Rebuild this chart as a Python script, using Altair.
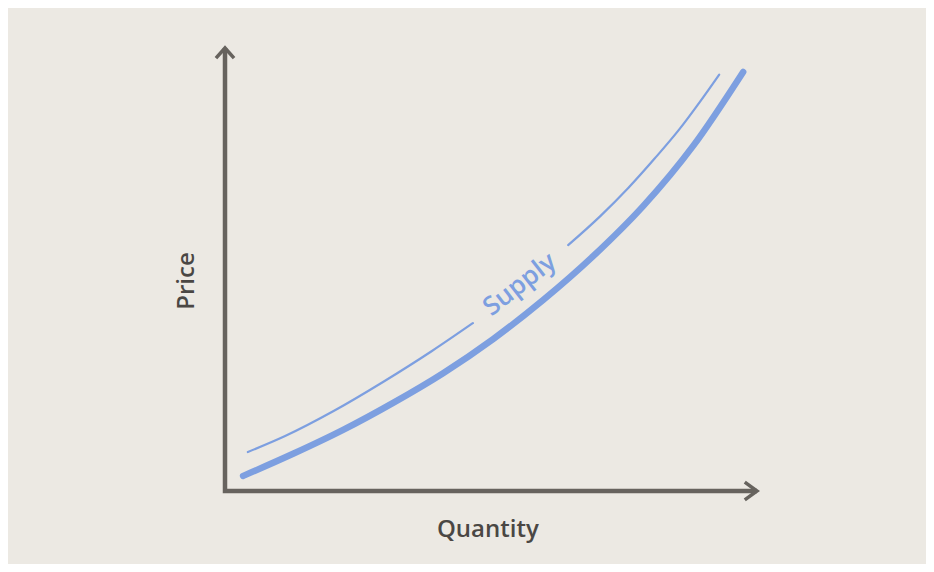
import altair as alt
import pandas as pd

# Supply curve (thick) (Quantity, Price on 0-100 scales)
supply_q = [3.4, 12.8, 22.2, 31.6, 41.0, 50.4, 59.8, 69.2, 78.6, 88.0, 97.4]
supply_p = [3.4, 8.4, 13.8, 19.9, 26.6, 34.3, 43.1, 53.0, 64.3, 77.9, 94.6]

# Thin guide line above the curve, split around the label
guide1_q = [4.3, 11.3, 20.5, 29.7, 38.9, 46.6]
guide1_p = [8.8, 12.4, 18.1, 24.6, 31.6, 37.9]
guide2_q = [64.5, 70.5, 75.8, 80.8, 85.5, 89.3, 92.9]
guide2_p = [55.5, 62.0, 68.4, 75.1, 81.8, 87.9, 94.0]

# Axes (L shape) and arrowheads
axis_q = [0, 0, 100]
axis_p = [100, 0, 0]
arrow_x_q = [97.7, 100, 97.7]
arrow_x_p = [2.0, 0, -2.0]
arrow_y_q = [-1.7, 0, 1.7]
arrow_y_p = [97.7, 100, 97.7]

# Labels
label_text = ["Supply", "Quantity", "Price"]
label_q = [55.4, 49.4, -7.1]
label_p = [46.6, -8.8, 47.4]

BLUE = "#7d9fe0"
AXIS = "#67635e"
TEXT = "#4a4744"
BG = "#ece9e3"


def frame(q, p):
    return pd.DataFrame({"q": q, "p": p, "i": list(range(len(q)))})


xs = alt.X("q:Q", scale=alt.Scale(domain=[0, 100], nice=False, zero=False), axis=None)
ys = alt.Y("p:Q", scale=alt.Scale(domain=[0, 100], nice=False, zero=False), axis=None)


def path(q, p, **kw):
    return alt.Chart(frame(q, p)).mark_line(**kw).encode(x=xs, y=ys, order=alt.Order("i:Q"))


axes = path(axis_q, axis_p, color=AXIS, strokeWidth=4.5, strokeJoin="miter", strokeCap="butt")
ax_arrow = path(arrow_x_q, arrow_x_p, color=AXIS, strokeWidth=3.5, strokeJoin="miter", strokeCap="butt")
ay_arrow = path(arrow_y_q, arrow_y_p, color=AXIS, strokeWidth=3.5, strokeJoin="miter", strokeCap="butt")

thick = path(supply_q, supply_p, color=BLUE, strokeWidth=6.5, strokeCap="round", interpolate="monotone")
thin1 = path(guide1_q, guide1_p, color=BLUE, strokeWidth=2.2, strokeCap="round", interpolate="monotone")
thin2 = path(guide2_q, guide2_p, color=BLUE, strokeWidth=2.2, strokeCap="round", interpolate="monotone")

lab = pd.DataFrame({"t": label_text, "q": label_q, "p": label_p})

supply_lbl = alt.Chart(lab.iloc[[0]]).mark_text(
    font="Open Sans", fontSize=26, fontWeight=600, color=BLUE, angle=322, align="center", baseline="middle"
).encode(x=xs, y=ys, text="t:N")

qty_lbl = alt.Chart(lab.iloc[[1]]).mark_text(
    font="Open Sans", fontSize=24, fontWeight=600, color=TEXT, align="center", baseline="middle"
).encode(x=xs, y=ys, text="t:N")

price_lbl = alt.Chart(lab.iloc[[2]]).mark_text(
    font="Open Sans", fontSize=24, fontWeight=600, color=TEXT, angle=270, align="center", baseline="middle"
).encode(x=xs, y=ys, text="t:N")

chart = (
    alt.layer(axes, ax_arrow, ay_arrow, thin1, thin2, thick, supply_lbl, qty_lbl, price_lbl)
    .properties(
        width=532,
        height=443,
        padding={"left": 217, "top": 40, "right": 169, "bottom": 73},
        autosize=alt.AutoSizeParams(type="none"),
        background=BG,
    )
    .configure_view(stroke=None)
)

chart.save("out.html", embed_options={"renderer": "svg", "actions": False})
